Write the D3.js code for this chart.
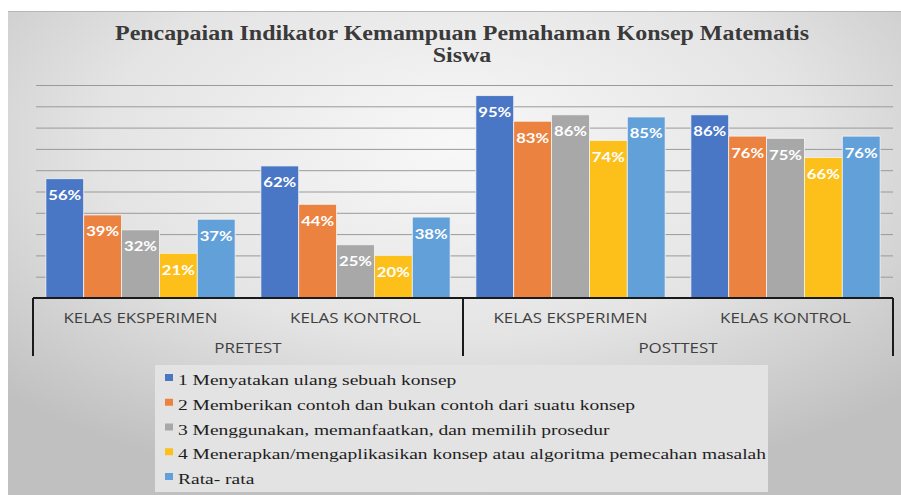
<!DOCTYPE html>
<html>
<head>
<meta charset="utf-8">
<script src="https://cdn.jsdelivr.net/npm/d3@7"></script>
<style>
  body { margin: 0; background: #fff; }
  svg { display: block; }
  .serif { font-family: "Liberation Serif", "DejaVu Serif", "Noto Serif", "Times New Roman", serif; }
  .sans { font-family: "Open Sans", "Liberation Sans", sans-serif; }
  .lbl { font-family: Lato, "Open Sans", sans-serif; }
</style>
</head>
<body>
<div class="chart"></div>
<script>
var width = 901;
var height = 495;

// data
var categories = ["KELAS EKSPERIMEN", "KELAS KONTROL", "KELAS EKSPERIMEN", "KELAS KONTROL"];
var phases = ["PRETEST", "POSTTEST"];
var seriesNames = [
    "1 Menyatakan ulang sebuah konsep",
    "2 Memberikan contoh dan bukan contoh dari suatu konsep",
    "3 Menggunakan, memanfaatkan, dan memilih prosedur",
    "4 Menerapkan/mengaplikasikan konsep atau algoritma pemecahan masalah",
    "Rata- rata"
];
var indikator1 = [56, 62, 95, 86];
var indikator2 = [39, 44, 83, 76];
var indikator3 = [32, 25, 86, 75];
var indikator4 = [21, 20, 74, 66];
var rataRata = [37, 38, 85, 76];
var yTicks = [0, 10, 20, 30, 40, 50, 60, 70, 80, 90, 100];
var colors = ["#4a76c6", "#ec8240", "#a8a8a8", "#fdc01a", "#62a0d9"];

var seriesValues = [indikator1, indikator2, indikator3, indikator4, rataRata];

var margin = {top: 85, left: 33, right: 8, bottom: 197};

var svg = d3.select(".chart")
    .append("svg")
    .attr("width", width)
    .attr("height", height);

var defs = svg.append("defs");
var bg = defs.append("radialGradient")
    .attr("id", "bg")
    .attr("cx", "50%").attr("cy", "28%").attr("r", "72%");
bg.append("stop").attr("offset", "0%").attr("stop-color", "#f8f8f8");
bg.append("stop").attr("offset", "55%").attr("stop-color", "#e4e4e4");
bg.append("stop").attr("offset", "100%").attr("stop-color", "#c0c0c0");

svg.append("rect")
    .attr("x", 8).attr("y", 11)
    .attr("width", width - 8).attr("height", height - 11)
    .attr("fill", "url(#bg)");
svg.append("line")
    .attr("x1", 8).attr("x2", width)
    .attr("y1", 11.5).attr("y2", 11.5)
    .attr("stroke", "#b5b5b5");

var x0 = d3.scaleBand()
    .domain(d3.range(categories.length))
    .range([margin.left, width - margin.right])
    .padding(0);

var x1 = d3.scaleBand()
    .domain(d3.range(seriesNames.length))
    .range([0, x0.bandwidth()])
    .paddingInner(0)
    .paddingOuter(0.34);

var y = d3.scaleLinear()
    .domain([0, 100])
    .range([298, margin.top]);

// gridlines
svg.append("g")
    .attr("transform", `translate(${margin.left},0)`)
    .call(d3.axisLeft(y).tickValues(yTicks.slice(1)).tickSize(-(width - margin.right - margin.left)).tickFormat(""))
    .call(function(g) { g.select(".domain").remove(); })
    .selectAll("line")
    .attr("stroke", "#9a9a9a")
    .attr("x1", 3);

// bars
var groups = svg.selectAll("g.cat")
    .data(categories)
    .enter()
    .append("g")
    .attr("class", "cat")
    .attr("transform", function(d, i) { return `translate(${x0(i)},0)`; });

groups.selectAll("rect")
    .data(function(d, i) { return seriesValues.map(function(s, j) { return {j: j, v: s[i]}; }); })
    .enter()
    .append("rect")
    .attr("x", function(d) { return x1(d.j); })
    .attr("y", function(d) { return y(d.v); })
    .attr("width", x1.bandwidth())
    .attr("height", function(d) { return y(0) - y(d.v); })
    .attr("fill", function(d) { return colors[d.j]; })
    .attr("stroke", "#f4f4f4")
    .attr("stroke-width", 0.8);

groups.selectAll("text")
    .data(function(d, i) { return seriesValues.map(function(s, j) { return {j: j, v: s[i]}; }); })
    .enter()
    .append("text")
    .attr("class", "lbl")
    .attr("x", function(d) { return x1(d.j) + x1.bandwidth() / 2; })
    .attr("y", function(d) { return y(d.v) + 21.5; })
    .attr("text-anchor", "middle")
    .attr("font-weight", "bold")
    .attr("font-size", 14)
    .attr("fill", "#fff")
    .attr("textLength", 33)
    .attr("lengthAdjust", "spacingAndGlyphs")
    .text(function(d) { return d.v + "%"; });

// axis lines
svg.append("line")
    .attr("x1", margin.left).attr("x2", width - margin.right)
    .attr("y1", y(0)).attr("y2", y(0))
    .attr("stroke", "#1a1a1a").attr("stroke-width", 2);

var sepX = [x0(0), x0(2), x0(3) + x0.bandwidth()];
svg.selectAll("line.sep")
    .data(sepX)
    .enter()
    .append("line")
    .attr("class", "sep")
    .attr("x1", function(d) { return d; }).attr("x2", function(d) { return d; })
    .attr("y1", y(0)).attr("y2", 356)
    .attr("stroke", "#1a1a1a").attr("stroke-width", 2);

function stretch(sel, k) {
    sel.each(function() {
        var w = this.getComputedTextLength();
        d3.select(this).attr("textLength", w * k).attr("lengthAdjust", "spacingAndGlyphs");
    });
}

var catText = svg.selectAll("text.cat")
    .data(categories)
    .enter()
    .append("text")
    .attr("class", "cat sans")
    .attr("x", function(d, i) { return x0(i) + x0.bandwidth() / 2; })
    .attr("y", 323)
    .attr("text-anchor", "middle")
    .attr("font-size", 14)
    .attr("fill", "#3f3f3f")
    .text(function(d) { return d; });

var phaseText = svg.selectAll("text.phase")
    .data(phases)
    .enter()
    .append("text")
    .attr("class", "phase sans")
    .attr("x", function(d, i) { return x0(i * 2 + 1); })
    .attr("y", 353)
    .attr("text-anchor", "middle")
    .attr("font-size", 14)
    .attr("fill", "#3f3f3f")
    .text(function(d) { return d; });

var kCat = 154 / catText.node().getComputedTextLength();
stretch(catText, kCat);
stretch(phaseText, kCat);

// title
var title1 = svg.append("text")
    .attr("class", "serif")
    .attr("x", 462).attr("y", 39.5)
    .attr("text-anchor", "middle")
    .attr("font-weight", "bold")
    .attr("font-size", 20)
    .attr("fill", "#3a3a3a")
    .text("Pencapaian Indikator Kemampuan Pemahaman Konsep Matematis");
var title2 = svg.append("text")
    .attr("class", "serif")
    .attr("x", 462).attr("y", 61.5)
    .attr("text-anchor", "middle")
    .attr("font-weight", "bold")
    .attr("font-size", 20)
    .attr("fill", "#3a3a3a")
    .text("Siswa");
var kTitle = 694 / title1.node().getComputedTextLength();
stretch(title1, kTitle);
stretch(title2, kTitle);

// legend
svg.append("rect")
    .attr("x", 155).attr("y", 365)
    .attr("width", 613).attr("height", 127)
    .attr("fill", "#e3e3e3");

var legend = svg.selectAll("g.legend")
    .data(seriesNames)
    .enter()
    .append("g")
    .attr("class", "legend")
    .attr("transform", function(d, i) { return `translate(165,${385 + i * 24.75})`; });

legend.append("rect")
    .attr("x", 0).attr("y", -11)
    .attr("width", 8).attr("height", 7)
    .attr("fill", function(d, i) { return colors[i]; });

var legendText = legend.append("text")
    .attr("class", "serif")
    .attr("x", 13).attr("y", 0)
    .attr("font-size", 15)
    .attr("fill", "#1e1e1e")
    .text(function(d) { return d; });

var kLegend = 588 / legendText.nodes()[3].getComputedTextLength();
stretch(legendText, kLegend);
</script>
</body>
</html>
